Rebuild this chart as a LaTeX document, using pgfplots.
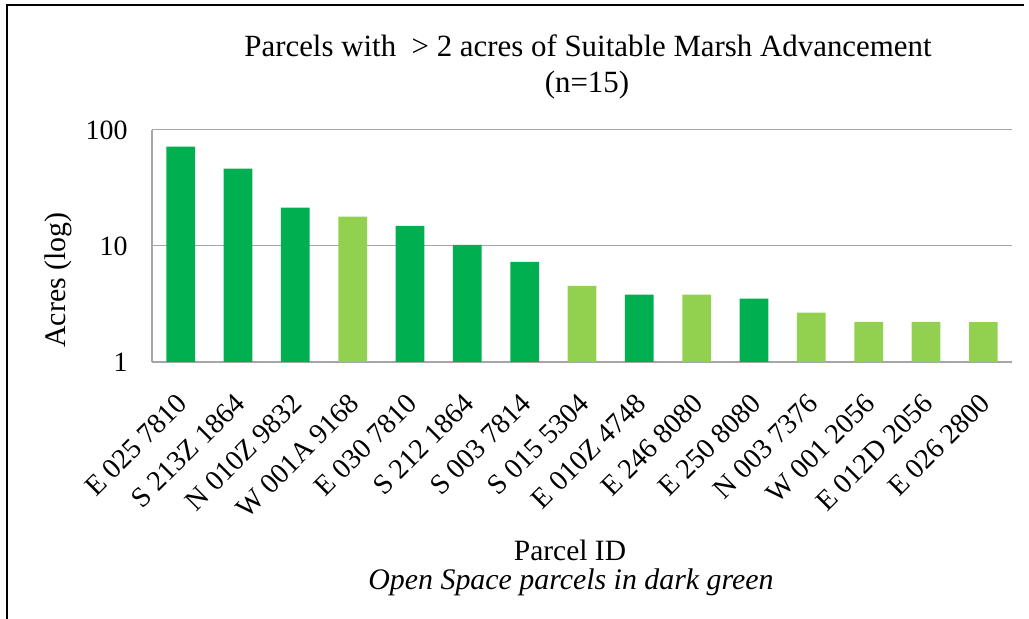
\documentclass[border=0pt]{standalone}
\usepackage{fontspec}
\setmainfont{Liberation Serif}
\usepackage{pgfplots}
\pgfplotsset{compat=1.18}
\definecolor{dk}{HTML}{00B050}
\definecolor{lt}{HTML}{92D050}
\definecolor{gridc}{HTML}{A6A6A6}
\begin{document}
\begin{tikzpicture}[x=1bp,y=1bp]
\useasboundingbox (0,0) rectangle (1029,619);
\draw[black, line width=2bp] (7,0) -- (7,614) -- (1024,614);
\begin{axis}[
  at={(152bp,257bp)}, anchor=south west,
  scale only axis, width=860bp, height=232bp,
  ymode=log, ymin=1, ymax=100,
  xmin=-0.5, xmax=14.5,
  ytick={1,10,100}, yticklabels={1,10,100},
  ymajorgrids, grid style={gridc, line width=1bp},
  axis x line*=bottom, axis y line*=left,
  axis line style={gridc, line width=1.2bp},
  major tick length=0pt, minor tick length=0pt,
  yminorticks=false,
  xtick={0,...,14},
  xticklabels={E 025 7810, S 213Z 1864, N 010Z 9832, W 001A 9168, E 030 7810, S 212 1864, S 003 7814, S 015 5304, E 010Z 4748, E 246 8080, E 250 8080, N 003 7376, W 001 2056, E 012D 2056, E 026 2800},
  xticklabel style={xshift=-5bp, yshift=-25bp, rotate=45, anchor=north east, font=\fontsize{28.5}{30}\selectfont},
  yticklabel style={font=\fontsize{28}{32}\selectfont, xshift=-21bp},
  /pgf/number format/assume math mode=true,
  bar width=28.7bp, bar shift=0pt,
  clip=false,
]
\addplot[ybar, fill=dk, draw=none] coordinates {(0,71.8) (1,46.4) (2,21.4) (4,14.9) (5,10.2) (6,7.3) (8,3.8) (10,3.51)};
\addplot[ybar, fill=lt, draw=none] coordinates {(3,17.9) (7,4.54) (9,3.8) (11,2.66) (12,2.22) (13,2.22) (14,2.21)};
\end{axis}
\node[rotate=90, font=\fontsize{30}{34}\selectfont] at (58,339) {Acres (log)};
\node[anchor=base, font=\fontsize{31}{34}\selectfont] at (588,562) {Parcels with \ > 2 acres of Suitable Marsh Advancement};
\node[anchor=base, font=\fontsize{31}{34}\selectfont] at (587,526) {(n=15)};
\node[anchor=base, font=\fontsize{29.6}{34}\selectfont] at (570,58) {Parcel ID};
\node[anchor=base, font=\fontsize{30}{34}\selectfont\itshape] at (571,29) {Open Space parcels in dark green};
\end{tikzpicture}
\end{document}
